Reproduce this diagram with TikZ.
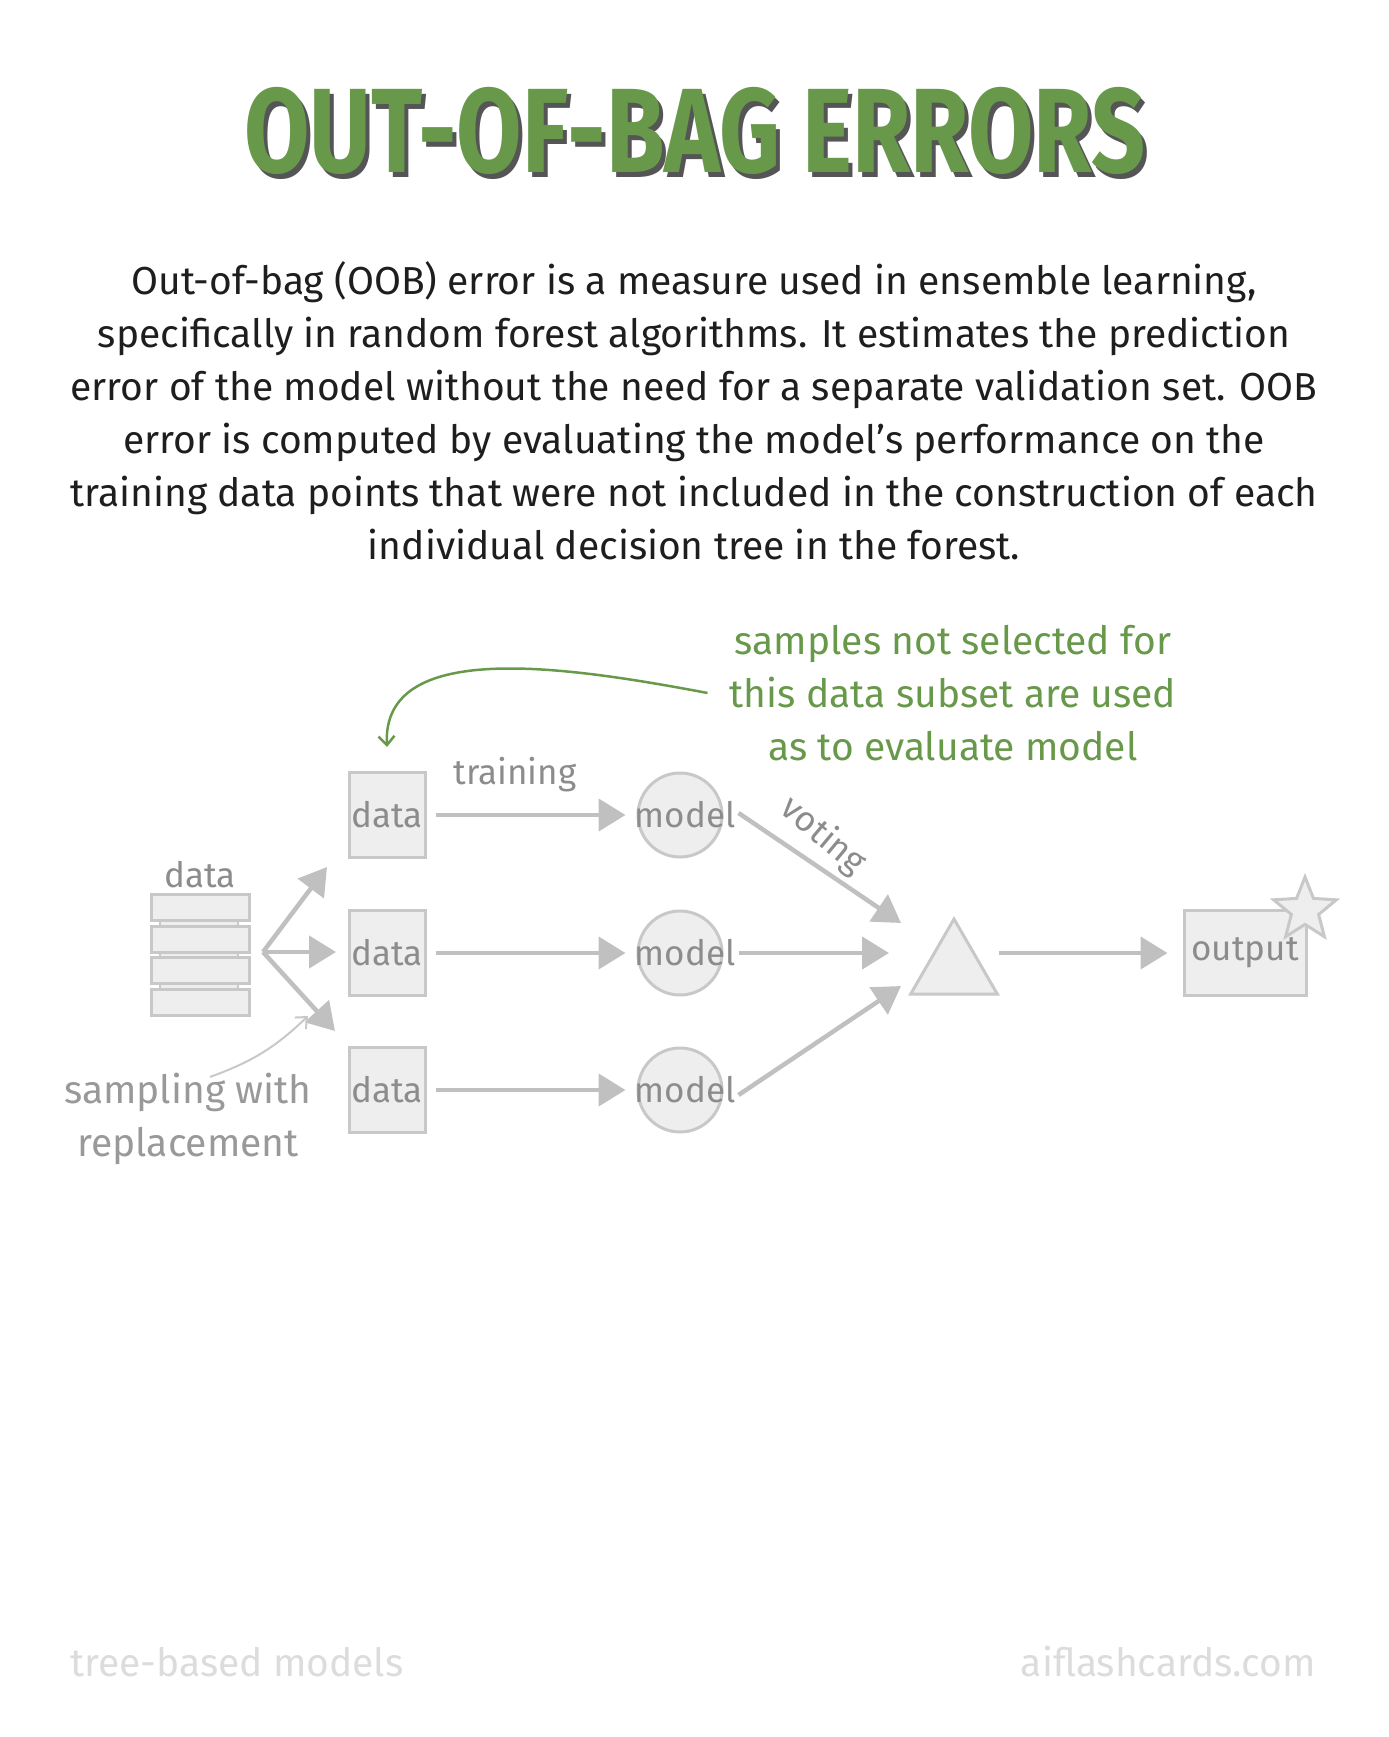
\documentclass[tikz,border=0pt]{standalone}
\usepackage{fontspec}
\usepackage{xcolor}
\usetikzlibrary{arrows.meta,positioning,calc,shapes.geometric}
\setmainfont{Fira Sans}
\definecolor{ink}{HTML}{1E1E1E}
\definecolor{leaf}{HTML}{68994A}
\definecolor{shade}{HTML}{555555}
\definecolor{fillgrey}{HTML}{EEEEEE}
\definecolor{edge}{HTML}{C8C8C8}
\definecolor{arrowgrey}{HTML}{C0C0C0}
\definecolor{labelgrey}{HTML}{8C8C8C}
\definecolor{notegrey}{HTML}{999999}
\definecolor{faint}{HTML}{DCDCDC}
\newcommand{\labelsize}{\fontsize{35}{42}\selectfont}
\newcommand{\bodysize}{\fontsize{39}{53}\selectfont}
\tikzset{
  x=1pt,y=-1pt,
  heading/.style={font=\fontsize{120}{130}\selectfont\bfseries,inner sep=0pt},
  prose/.style={font=\bodysize,text=ink,align=center,inner sep=0pt},
  subset/.style={draw=edge,fill=fillgrey,line width=3pt,minimum width=76pt,minimum height=85pt,inner sep=0pt,font=\labelsize,text=labelgrey},
  slab/.style={draw=edge,fill=fillgrey,line width=3pt,minimum width=98pt,minimum height=26pt,inner sep=0pt},
  tag/.style={font=\labelsize,text=labelgrey,inner sep=0pt},
  learner/.style={circle,draw=edge,fill=fillgrey,line width=3pt,minimum size=84pt,inner sep=0pt,
    label={[tag,xshift=5pt]center:model}},
  flow/.style={-{Triangle[length=27pt,width=32pt]},line width=4.5pt,draw=arrowgrey},
  hint/.style={-{Straight Barb[length=9pt,width=16pt]},line width=2pt,draw=edge},
  oobnote/.style={-{Straight Barb[length=9pt,width=16pt]},line width=2.5pt,draw=leaf}
}
\begin{document}
\begin{tikzpicture}
  \useasboundingbox (0,0) rectangle (1389,1737);
  % title with its shadow
  \node[heading,text=shade] at (699,136) {\scalebox{0.79}[1]{OUT-OF-BAG ERRORS}};
  \node[heading,text=leaf] (title) at (695,131) {\scalebox{0.79}[1]{OUT-OF-BAG ERRORS}};
  \node[prose] (intro) at (694,411) {Out-of-bag (OOB) error is a measure used in ensemble learning,\\
    specifically in random forest algorithms. It estimates the prediction\\
    error of the model without the need for a separate validation set. OOB\\
    error is computed by evaluating the model's performance on the\\
    training data points that were not included in the construction of each\\
    individual decision tree in the forest.};
  % full data set as a stack
  \node[slab,minimum width=78pt,minimum height=69pt,line width=2pt] (core) at (199,955) {};
  \foreach \i/\y in {1/907,2/939,3/970,4/1002}
    \node[slab] (slab\i) at (200,\y) {};
  \node[tag,above=4pt of slab1] (full) {data};
  % bootstrap subsets
  \node[subset] (sub1) at (387,815) {data};
  \node[subset] (sub2) at (387,953) {data};
  \node[subset] (sub3) at (387,1090) {data};
  \coordinate (fork) at (263,952);
  \coordinate (pick1) at (327,867);
  \coordinate (pick2) at (336,952);
  \coordinate (pick3) at (335,1031);
  \draw[flow] (fork) -- (pick1);
  \draw[flow] (fork) -- (pick2);
  \draw[flow] (fork) -- (pick3);
  \node[tag,text=notegrey,align=center,font=\bodysize] (samp) at (188,1119) {sampling with\\replacement};
  \coordinate (sampend) at (308,1016);
  \draw[hint] ([xshift=22pt,yshift=-4pt]samp.north) to[bend right=12] (sampend);
  % trees
  \node[learner] (m1) at (680,815) {};
  \node[learner] (m2) at (680,953) {};
  \node[learner] (m3) at (680,1090) {};
  \draw[flow,shorten <=9pt,shorten >=11pt] (sub1) -- (m1);
  \draw[flow,shorten <=9pt,shorten >=11pt] (sub2) -- (m2);
  \draw[flow,shorten <=9pt,shorten >=11pt] (sub3) -- (m3);
  \node[tag] (train) at (515,775) {training};
  % voting
  \node[regular polygon,regular polygon sides=3,draw=edge,fill=fillgrey,line width=3pt,minimum size=100pt,inner sep=0pt] (vote) at (954,969) {};
  \coordinate (in1) at (901,923);
  \coordinate (in2) at (889,953);
  \coordinate (in3) at (901,986);
  \draw[flow] ([xshift=15pt,yshift=2pt]m1.east) -- (in1);
  \draw[flow] ([xshift=15pt]m2.east) -- (in2);
  \draw[flow] ([xshift=15pt,yshift=-5pt]m3.east) -- (in3);
  \node[tag,rotate=-40] (votelbl) at (823,836) {voting};
  % result
  \node[subset,minimum width=122pt] (out) at (1245,953) {output};
  \draw[flow,shorten <=14pt,shorten >=15pt] (vote.east |- out) -- (out.west);
  \node[star,star points=5,star point ratio=2.3,draw=edge,fill=fillgrey,line width=3pt,minimum size=66pt,inner sep=0pt] (prize) at (1305,910) {};
  % out-of-bag annotation
  \node[prose,text=leaf] (oob) at (953,693) {samples not selected for\\this data subset are used\\as to evaluate model};
  \draw[oobnote] ([xshift=-22pt]oob.west) .. controls (560,665) and (382,640) .. ([yshift=24pt]sub1.north);
  % footer
  \node[prose,text=faint,anchor=west] (topic) at (70,1662) {tree-based models};
  \node[prose,text=faint,anchor=east] (site) at (1316,1662) {aiflashcards.com};
\end{tikzpicture}
\end{document}
